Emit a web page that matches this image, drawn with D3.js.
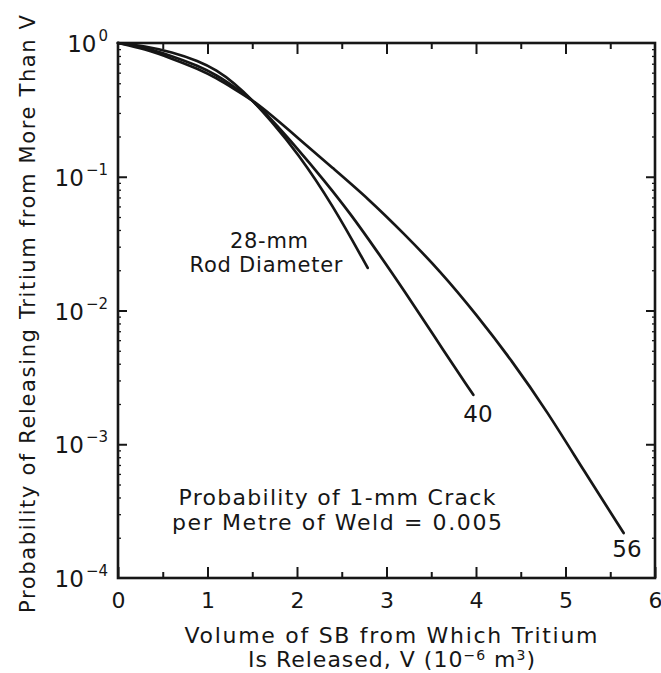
<!DOCTYPE html>
<html><head><meta charset="utf-8">
<script src="https://cdn.jsdelivr.net/npm/d3@7"></script>
<style>body{margin:0;background:#fff}svg{display:block}text{font-family:"DejaVu Sans",sans-serif;fill:#161616}</style>
</head><body>
<svg id="c" width="661" height="673"></svg>
<script>
// ---- data ----
const diameterLabels = ["28", "40", "56"];
const volume28 = [0, 0.3, 0.6, 0.9, 1.1, 1.3, 1.5, 1.7, 2.0, 2.4, 2.79];
const prob28   = [1, 0.950, 0.856, 0.734, 0.628, 0.502, 0.375, 0.266, 0.153, 0.0615, 0.0208];
const volume40 = [0, 0.3, 0.6, 0.9, 1.1, 1.3, 1.5, 1.7, 2.0, 2.3, 2.6, 2.9, 3.2, 3.5, 3.97];
const prob40   = [1, 0.926, 0.800, 0.673, 0.576, 0.469, 0.375, 0.275, 0.164, 0.0946, 0.0527, 0.0274, 0.0140, 0.00691, 0.00234];
const volume56 = [0, 0.3, 0.6, 0.9, 1.1, 1.3, 1.5, 1.7, 2.0, 2.4, 2.8, 3.2, 3.6, 4.0, 4.4, 4.8, 5.2, 5.65];
const prob56   = [1, 0.902, 0.766, 0.639, 0.547, 0.453, 0.375, 0.294, 0.198, 0.116, 0.0682, 0.0373, 0.0197, 0.00941, 0.00423, 0.00174, 0.000642, 0.000217];
const xMajorTicks = [0, 1, 2, 3, 4, 5, 6];
const xMinorTicks = [0.5, 1.5, 2.5, 3.5, 4.5, 5.5];
const yTickExponents = [0, -1, -2, -3, -4];
const annotationLines = ["Probability of 1-mm Crack", "per Metre of Weld = 0.005"];
const rodLabelLines = ["28-mm", "Rod Diameter"];
const yTitle = "Probability of Releasing Tritium from More Than V";
const xTitleLine1 = "Volume of SB from Which Tritium";

// ---- layout ----
const svg = d3.select("#c");
const L = 118, R = 655, T = 43, B = 578;
const x = d3.scaleLinear().domain([0, 6]).range([L, R]);
const y = d3.scaleLog().domain([1e-4, 1]).range([B, T]);
const ink = "#161616";

const yMinor = [];
for (let e = -4; e < 0; e++) for (let k = 2; k <= 9; k++) yMinor.push(k * Math.pow(10, e));
const yMajor = yTickExponents.map(e => Math.pow(10, e));

function styleAxis(g) {
  g.selectAll("path.domain").remove();
  g.selectAll("line").attr("stroke", ink).attr("stroke-width", 2);
}

// bottom axis
svg.append("g").attr("transform", `translate(0,${B})`)
  .call(d3.axisBottom(x).tickValues(xMajorTicks).tickSize(-11).tickPadding(14).tickFormat(d3.format("d")))
  .call(styleAxis)
  .call(g => g.selectAll("text").attr("font-size", 22).attr("font-family", "DejaVu Sans").attr("fill", ink));
svg.append("g").attr("transform", `translate(0,${B})`)
  .call(d3.axisBottom(x).tickValues(xMinorTicks).tickSize(-6).tickFormat(""))
  .call(styleAxis);
// top axis
svg.append("g").attr("transform", `translate(0,${T})`)
  .call(d3.axisTop(x).tickValues(xMajorTicks.slice(1, -1)).tickSize(-11).tickFormat(""))
  .call(styleAxis);
svg.append("g").attr("transform", `translate(0,${T})`)
  .call(d3.axisTop(x).tickValues(xMinorTicks).tickSize(-6).tickFormat(""))
  .call(styleAxis);
// left axis
svg.append("g").attr("transform", `translate(${L},0)`)
  .call(d3.axisLeft(y).tickValues(yMajor.slice(1, -1)).tickSize(-9).tickFormat(""))
  .call(styleAxis);
svg.append("g").attr("transform", `translate(${L},0)`)
  .call(d3.axisLeft(y).tickValues(yMinor).tickSize(-3).tickFormat(""))
  .call(styleAxis).call(g => g.selectAll("line").attr("stroke-width", 1.3));
// right axis
svg.append("g").attr("transform", `translate(${R},0)`)
  .call(d3.axisRight(y).tickValues(yMajor.slice(1, -1)).tickSize(-9).tickFormat(""))
  .call(styleAxis);
svg.append("g").attr("transform", `translate(${R},0)`)
  .call(d3.axisRight(y).tickValues(yMinor).tickSize(-3).tickFormat(""))
  .call(styleAxis).call(g => g.selectAll("line").attr("stroke-width", 1.3));

// frame
svg.append("rect").attr("x", L).attr("y", T).attr("width", R - L).attr("height", B - T)
  .attr("fill", "none").attr("stroke", ink).attr("stroke-width", 2.6);

// y tick labels 10^e
yTickExponents.forEach(e => {
  const t = svg.append("text").attr("x", 108).attr("y", y(Math.pow(10, e)) + 9)
    .attr("text-anchor", "end").attr("font-size", 23);
  t.append("tspan").text("10");
  t.append("tspan").attr("font-size", 15).attr("dy", -11).attr("dx", 2)
    .text(e === 0 ? "0" : "\u2212" + Math.abs(e));
});

// curves
const series = [
  {label: diameterLabels[0], xs: volume28, ps: prob28},
  {label: diameterLabels[1], xs: volume40, ps: prob40},
  {label: diameterLabels[2], xs: volume56, ps: prob56}
];
const line = d3.line().x(d => x(d[0])).y(d => y(d[1])).curve(d3.curveBasis);
series.forEach(s => {
  svg.append("path").datum(s.xs.map((v, i) => [v, s.ps[i]]))
    .attr("d", line).attr("fill", "none").attr("stroke", ink)
    .attr("stroke-width", 2.7).attr("stroke-linecap", "round");
});

// curve labels
svg.append("text").attr("x", 269).attr("y", 248).attr("text-anchor", "middle")
  .attr("font-size", 21).attr("textLength", 78).attr("lengthAdjust", "spacing").text(rodLabelLines[0]);
svg.append("text").attr("x", 266).attr("y", 272).attr("text-anchor", "middle")
  .attr("font-size", 21).attr("textLength", 153).attr("lengthAdjust", "spacing").text(rodLabelLines[1]);
svg.append("text").attr("x", 478).attr("y", 422).attr("text-anchor", "middle")
  .attr("font-size", 23).text(diameterLabels[1]);
svg.append("text").attr("x", 627).attr("y", 557).attr("text-anchor", "middle")
  .attr("font-size", 23).text(diameterLabels[2]);

// annotation
svg.append("text").attr("x", 337).attr("y", 505).attr("text-anchor", "middle")
  .attr("font-size", 22).attr("textLength", 317).attr("lengthAdjust", "spacing").text(annotationLines[0]);
svg.append("text").attr("x", 337).attr("y", 530).attr("text-anchor", "middle")
  .attr("font-size", 22).attr("textLength", 330).attr("lengthAdjust", "spacing").text(annotationLines[1]);

// axis titles
svg.append("text").attr("transform", "translate(35,314) rotate(-90)").attr("text-anchor", "middle")
  .attr("font-size", 21).attr("textLength", 598).attr("lengthAdjust", "spacing").text(yTitle);
svg.append("text").attr("x", 391).attr("y", 643).attr("text-anchor", "middle")
  .attr("font-size", 22).attr("textLength", 413).attr("lengthAdjust", "spacing").text(xTitleLine1);
const t2 = svg.append("text").attr("x", 392).attr("y", 667).attr("text-anchor", "middle")
  .attr("font-size", 22).attr("letter-spacing", 1);
t2.append("tspan").text("Is Released, V (10");
t2.append("tspan").attr("font-size", 14).attr("dy", -7).text("\u22126");
t2.append("tspan").attr("dy", 7).text(" m");
t2.append("tspan").attr("font-size", 14).attr("dy", -7).text("3");
t2.append("tspan").attr("dy", 7).text(")");
</script>
</body></html>
